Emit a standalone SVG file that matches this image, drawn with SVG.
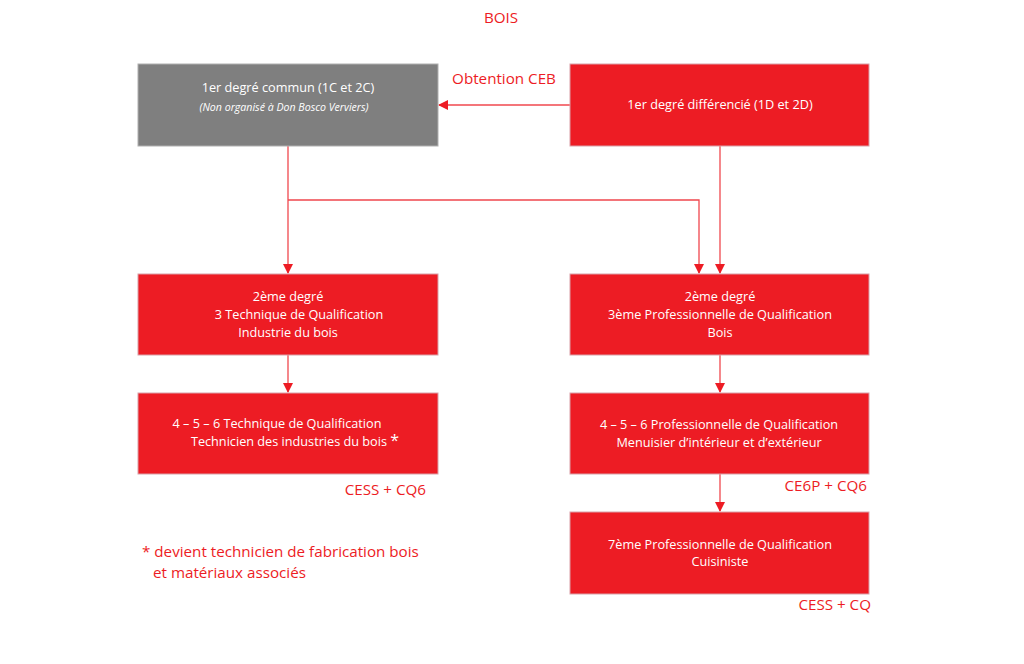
<svg xmlns="http://www.w3.org/2000/svg" width="1024" height="664" viewBox="0 0 1024 664">
<style>
.box{fill:#ED1C24;stroke:#D9A0A8;stroke-width:1}
.gray{fill:#7F7F7F;stroke:#B0B0B0;stroke-width:1}
.t{font-family:"Open Sans","Liberation Sans",sans-serif;font-size:12.7px;fill:#FFFFFF;text-anchor:middle}
.i{font-style:italic;font-size:10.6px}
.r{font-family:"Open Sans","Liberation Sans",sans-serif;font-size:15.2px;fill:#ED1C24}
.c{fill:none;stroke:#F0474E;stroke-width:1.3}
</style>
<defs>
<marker id="ah" markerWidth="10" markerHeight="10" refX="9" refY="5" orient="auto" markerUnits="userSpaceOnUse">
<path d="M0,0 L10,5 L0,10 Z" fill="#ED1C24"/>
</marker>
</defs>
<rect width="1024" height="664" fill="#FFFFFF"/>
<text class="r" x="501" y="23" text-anchor="middle">BOIS</text>
<text class="r" x="504" y="84" text-anchor="middle">Obtention CEB</text>
<g id="connectors">
<path class="c" d="M570,105 L439,105" marker-end="url(#ah)"/>
<path class="c" d="M288,146 L288,273" marker-end="url(#ah)"/>
<path class="c" d="M288,200 L699,200 L699,273" marker-end="url(#ah)"/>
<path class="c" d="M720,146 L720,273" marker-end="url(#ah)"/>
<path class="c" d="M288,355 L288,392" marker-end="url(#ah)"/>
<path class="c" d="M720,355 L720,392" marker-end="url(#ah)"/>
<path class="c" d="M720,474 L720,511" marker-end="url(#ah)"/>
</g>
<g id="n1c">
<rect class="gray" x="138" y="64" width="300" height="82"/>
<text class="t" x="288" y="92">1er degré commun (1C et 2C)</text>
<text class="t i" x="284" y="111">(Non organisé à Don Bosco Verviers)</text>
</g>
<g id="n1d">
<rect class="box" x="570" y="64" width="299" height="82"/>
<text class="t" x="720" y="109">1er degré différencié (1D et 2D)</text>
</g>
<g id="n2tq">
<rect class="box" x="138" y="274" width="300" height="81"/>
<text class="t" x="288" y="301">2ème degré</text>
<text class="t" x="299" y="319">3 Technique de Qualification</text>
<text class="t" x="288" y="337">Industrie du bois</text>
</g>
<g id="n2pq">
<rect class="box" x="570" y="274" width="299" height="81"/>
<text class="t" x="720" y="301">2ème degré</text>
<text class="t" x="720" y="319">3ème Professionnelle de Qualification</text>
<text class="t" x="720" y="337">Bois</text>
</g>
<g id="n3tq">
<rect class="box" x="138" y="393" width="300" height="81"/>
<text class="t" x="277" y="428">4 – 5 – 6 Technique de Qualification</text>
<text class="t" x="295" y="446">Technicien des industries du bois <tspan font-size="16">*</tspan></text>
</g>
<g id="n3pq">
<rect class="box" x="570" y="393" width="299" height="81"/>
<text class="t" x="719" y="429">4 – 5 – 6  Professionnelle de Qualification</text>
<text class="t" x="719" y="447">Menuisier d’intérieur et d’extérieur</text>
</g>
<g id="n7pq">
<rect class="box" x="570" y="512" width="299" height="82"/>
<text class="t" x="720" y="549">7ème Professionnelle de Qualification</text>
<text class="t" x="720" y="566">Cuisiniste</text>
</g>
<text class="r" x="426" y="495" text-anchor="end">CESS + CQ6</text>
<text class="r" x="867" y="491" text-anchor="end">CE6P + CQ6</text>
<text class="r" x="871" y="610" text-anchor="end">CESS + CQ</text>
<text class="r" x="142" y="557">* devient technicien de fabrication bois</text>
<text class="r" x="153" y="578">et matériaux associés</text>
</svg>
